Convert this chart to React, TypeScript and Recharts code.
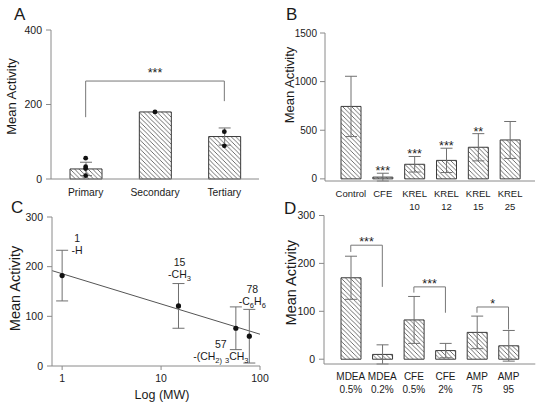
import React from "react";
import {
  ComposedChart, Bar, Line, Scatter, XAxis, YAxis, ErrorBar,
  ReferenceLine, ReferenceDot, LabelList,
} from "recharts";

// A: amine class
const aCategories = ["Primary", "Secondary", "Tertiary"];
const aMeans = [27, 180, 114];
const aErrors = [18, 0, 23];
const aReplicates = [[56, 33, 28, 9], [180], [127, 89]];
const aBrackets = [
  { from: "Primary", to: "Tertiary", fromEnd: 166, toEnd: 209, top: 263, mark: "***" },
];

// B: control vs additives
const bCategories = ["Control", "CFE", "KREL 10", "KREL 12", "KREL 15", "KREL 25"];
const bMeans = [745, 18, 150, 190, 325, 400];
const bErrors = [310, 40, 80, 125, 140, 190];
const bMarks = ["", "***", "***", "***", "**", ""];

// C: activity vs substituent mass
const cMW = [1, 15, 57, 78];
const cMeans = [182, 121, 76, 60];
const cErrors = [51, 45, 43, 54];
const cGroups = ["-H", "-CH_{3}", "-(CH_{2)} _{3}CH_{3}", "-C_{6}H_{6}"];
const cFitX = [0.79, 100];
const cFitY = [192, 64];
const cXTicks = [1, 10, 100];

// D: concentration pairs
const dCategories = ["MDEA 0.5%", "MDEA 0.2%", "CFE 0.5%", "CFE 2%", "AMP 75", "AMP 95"];
const dMeans = [170, 10, 82, 18, 56, 28];
const dErrors = [45, 20, 49, 15, 34, 32];
const dBrackets = [
  { from: "MDEA 0.5%", to: "MDEA 0.2%", fromEnd: 224, toEnd: 151, top: 238, mark: "***" },
  { from: "CFE 0.5%", to: "CFE 2%", fromEnd: 139, toEnd: 97, top: 151, mark: "***" },
  { from: "AMP 75", to: "AMP 95", fromEnd: 97, toEnd: 62, top: 109, mark: "*" },
];

const ink = "#1a1a1a";
const axisGrey = "#8a8a8a";
const errGrey = "#707070";
const font = "Arial, 'Liberation Sans', sans-serif";

const aData = aCategories.map((name, i) => ({
  name, mean: aMeans[i], err: aErrors[i],
  p0: aReplicates[i][0] ?? null, p1: aReplicates[i][1] ?? null,
  p2: aReplicates[i][2] ?? null, p3: aReplicates[i][3] ?? null,
}));
const bData = bCategories.map((name, i) => ({
  name, mean: bMeans[i], err: bErrors[i], top: bMeans[i] + bErrors[i], mark: bMarks[i],
}));
const cData = cMW.map((mw, i) => ({ mw, mean: cMeans[i], err: cErrors[i] }));
const cFit = cFitX.map((mw, i) => ({ mw, fit: cFitY[i] }));
const dData = dCategories.map((name, i) => ({ name, mean: dMeans[i], err: dErrors[i] }));

// where the two-line annotations sit relative to each point in C (px)
const cLabelShift = [[15, -37], [1, -44], [-15, 16], [3, -47]];

function Hatch({ id }: { id: string }) {
  return (
    <defs>
      <pattern id={id} patternUnits="userSpaceOnUse" width={4.5} height={4.5}>
        <path d="M-1,-1 L5.5,5.5 M-1,3.5 L1,5.5 M3.5,-1 L5.5,1" stroke="#4a4a4a" strokeWidth={0.8} />
      </pattern>
    </defs>
  );
}

function catTick(size: number, first: number, gap: number) {
  return (p: any) => {
    const lines = String(p.payload.value).split(" ");
    return (
      <text x={p.x} y={p.y} textAnchor="middle" fontSize={size} fill={ink}>
        {lines.map((ln, i) => (
          <tspan key={i} x={p.x} dy={i === 0 ? first : gap}>{ln}</tspan>
        ))}
      </text>
    );
  };
}

function formula(f: string, size: number) {
  const parts = f.split(/(_\{[^}]*\})/).filter(Boolean);
  return parts.map((s, i) => {
    if (s.startsWith("_{")) {
      return <tspan key={i} fontSize={size * 0.72} dy={3}>{s.slice(2, -1)}</tspan>;
    }
    if (i > 0 && parts[i - 1].startsWith("_{")) {
      return <tspan key={i} dy={-3}>{s}</tspan>;
    }
    return <tspan key={i}>{s}</tspan>;
  });
}

function bracket(b: any, starOffset: number) {
  const line = { stroke: "#777", strokeWidth: 1, ifOverflow: "visible" as const };
  return [
    <ReferenceLine key={b.from + "l"} segment={[{ x: b.from, y: b.fromEnd }, { x: b.from, y: b.top }]} {...line} />,
    <ReferenceLine key={b.from + "t"} segment={[{ x: b.from, y: b.top }, { x: b.to, y: b.top }]} {...line}
      label={{ value: b.mark, position: "top", offset: starOffset, fontSize: 12.5, fill: ink }} />,
    <ReferenceLine key={b.from + "r"} segment={[{ x: b.to, y: b.top }, { x: b.to, y: b.toEnd }]} {...line} />,
  ];
}

const yLabel = (offset: number, size: number, dy: number) => ({
  value: "Mean Activity", angle: -90, position: "insideLeft" as const, offset, dy,
  style: { textAnchor: "middle" as const }, fontSize: size, fill: ink,
});

const barStyle = (id: string) => ({
  fill: `url(#${id})`, stroke: "#3a3a3a", strokeWidth: 1, isAnimationActive: false,
});

const dotStyle = { r: 2.4, fill: "#111", stroke: "none" };

export default function App() {
  return (
    <div style={{ position: "absolute", left: 0, top: 0, width: 545, height: 409, background: "#fff", fontFamily: font }}>
      {/* A */}
      <div style={{ position: "absolute", left: 0, top: 0 }}>
        <ComposedChart width={272} height={205} data={aData} margin={{ top: 30, right: 13, bottom: 0, left: 0 }}>
          <Hatch id="hatchA" />
          <XAxis dataKey="name" height={26} stroke={axisGrey} tickLine={false} tickSize={0} tickMargin={0}
            interval={0} tick={catTick(10.3, 17, 13)} />
          <YAxis width={51} domain={[0, 400]} ticks={[0, 200, 400]} stroke={axisGrey} tickSize={5} tickMargin={4}
            tick={{ fontSize: 10.5, fill: ink }} label={yLabel(11, 13, -8)} />
          <Bar dataKey="mean" barSize={32} {...barStyle("hatchA")}>
            <ErrorBar dataKey="err" width={6} stroke={errGrey} strokeWidth={1} direction="y" isAnimationActive={false} />
          </Bar>
          {["p0", "p1", "p2", "p3"].map((k) => (
            <Line key={k} dataKey={k} stroke="none" dot={dotStyle} activeDot={false} isAnimationActive={false} />
          ))}
          {aBrackets.map((b) => bracket(b, 4))}
        </ComposedChart>
      </div>

      {/* B */}
      <div style={{ position: "absolute", left: 272, top: 0 }}>
        <ComposedChart width={273} height={220} data={bData} margin={{ top: 33, right: 10, bottom: 0, left: 0 }}>
          <Hatch id="hatchB" />
          <XAxis dataKey="name" height={39} stroke={axisGrey} tickLine={false} tickSize={0} tickMargin={0}
            interval={0} padding={{ left: 10, right: 9 }} tick={catTick(9.5, 15.5, 13)} />
          <YAxis width={53} domain={[0, 1500]} ticks={[0, 500, 1000, 1500]} stroke={axisGrey} tickSize={5} tickMargin={3}
            tick={{ fontSize: 10, fill: ink }} label={yLabel(17, 13, -22)} />
          <Bar dataKey="mean" barSize={20} {...barStyle("hatchB")}>
            <ErrorBar dataKey="err" width={6} stroke={errGrey} strokeWidth={1} direction="y" isAnimationActive={false} />
          </Bar>
          <Line dataKey="top" stroke="none" dot={false} activeDot={false} isAnimationActive={false}>
            <LabelList dataKey="mark" position="top" offset={-2} fontSize={12.5} fill={ink} />
          </Line>
        </ComposedChart>
      </div>

      {/* C */}
      <div style={{ position: "absolute", left: 0, top: 200 }}>
        <ComposedChart width={272} height={209} margin={{ top: 17, right: 12, bottom: 0, left: 0 }}>
          <XAxis dataKey="mw" type="number" scale="log" domain={[0.79, 100]} allowDataOverflow ticks={cXTicks}
            height={43} stroke={axisGrey} tickSize={4} tickMargin={5} tick={{ fontSize: 10.5, fill: ink }}
            label={{ value: "Log (MW)", position: "insideBottom", offset: 10, dx: 6, fontSize: 12.5, fill: ink }} />
          <YAxis width={52} domain={[0, 300]} ticks={[0, 100, 200, 300]} stroke={axisGrey} tickSize={5} tickMargin={4}
            tick={{ fontSize: 10.5, fill: ink }} label={yLabel(15, 14.5, -3)} />
          <Line data={cFit} dataKey="fit" stroke="#555" strokeWidth={1} dot={false} activeDot={false} isAnimationActive={false} />
          <Scatter data={cData} dataKey="mean" isAnimationActive={false}
            shape={(p: any) => <circle cx={p.cx} cy={p.cy} r={2.6} fill="#111" />}>
            <ErrorBar dataKey="err" width={6} stroke={errGrey} strokeWidth={1} direction="y" isAnimationActive={false} />
          </Scatter>
          {cMW.map((mw, i) => (
            <ReferenceDot key={mw} x={mw} y={cMeans[i]} r={0} fill="none" stroke="none"
              label={(p: any) => {
                const cx = p.viewBox.x + cLabelShift[i][0];
                const cy = p.viewBox.y + cLabelShift[i][1];
                return (
                  <g fontSize={10.5} fill={ink}>
                    <text x={cx} y={cy + 3.7} textAnchor="middle">{mw}</text>
                    <text x={cx} y={cy + 15.7} textAnchor="middle">{formula(cGroups[i], 10.5)}</text>
                  </g>
                );
              }} />
          ))}
        </ComposedChart>
      </div>

      {/* D */}
      <div style={{ position: "absolute", left: 272, top: 200 }}>
        <ComposedChart width={273} height={209} data={dData} margin={{ top: 15.5, right: 9.7, bottom: 0, left: 0 }}>
          <Hatch id="hatchD" />
          <XAxis dataKey="name" height={45} stroke={axisGrey} tickLine={false} tickSize={0} tickMargin={0}
            interval={0} padding={{ left: 11, right: 11 }} tick={catTick(10, 16, 12.5)} />
          <YAxis width={52} domain={[0, 300]} ticks={[0, 100, 200, 300]} stroke={axisGrey} tickSize={5} tickMargin={4}
            tick={{ fontSize: 10.5, fill: ink }} label={yLabel(19, 14.5, -7)} />
          <Bar dataKey="mean" barSize={20} {...barStyle("hatchD")}>
            <ErrorBar dataKey="err" width={6} stroke={errGrey} strokeWidth={1} direction="y" isAnimationActive={false} />
          </Bar>
          {dBrackets.map((b) => bracket(b, -1))}
        </ComposedChart>
      </div>

      <svg width={545} height={409} style={{ position: "absolute", left: 0, top: 0, pointerEvents: "none" }}>
        <g fontSize={17} fill={ink} fontFamily={font}>
          <text x={14} y={20}>A</text>
          <text x={286} y={20}>B</text>
          <text x={11} y={213}>C</text>
          <text x={284} y={214}>D</text>
        </g>
      </svg>
    </div>
  );
}
